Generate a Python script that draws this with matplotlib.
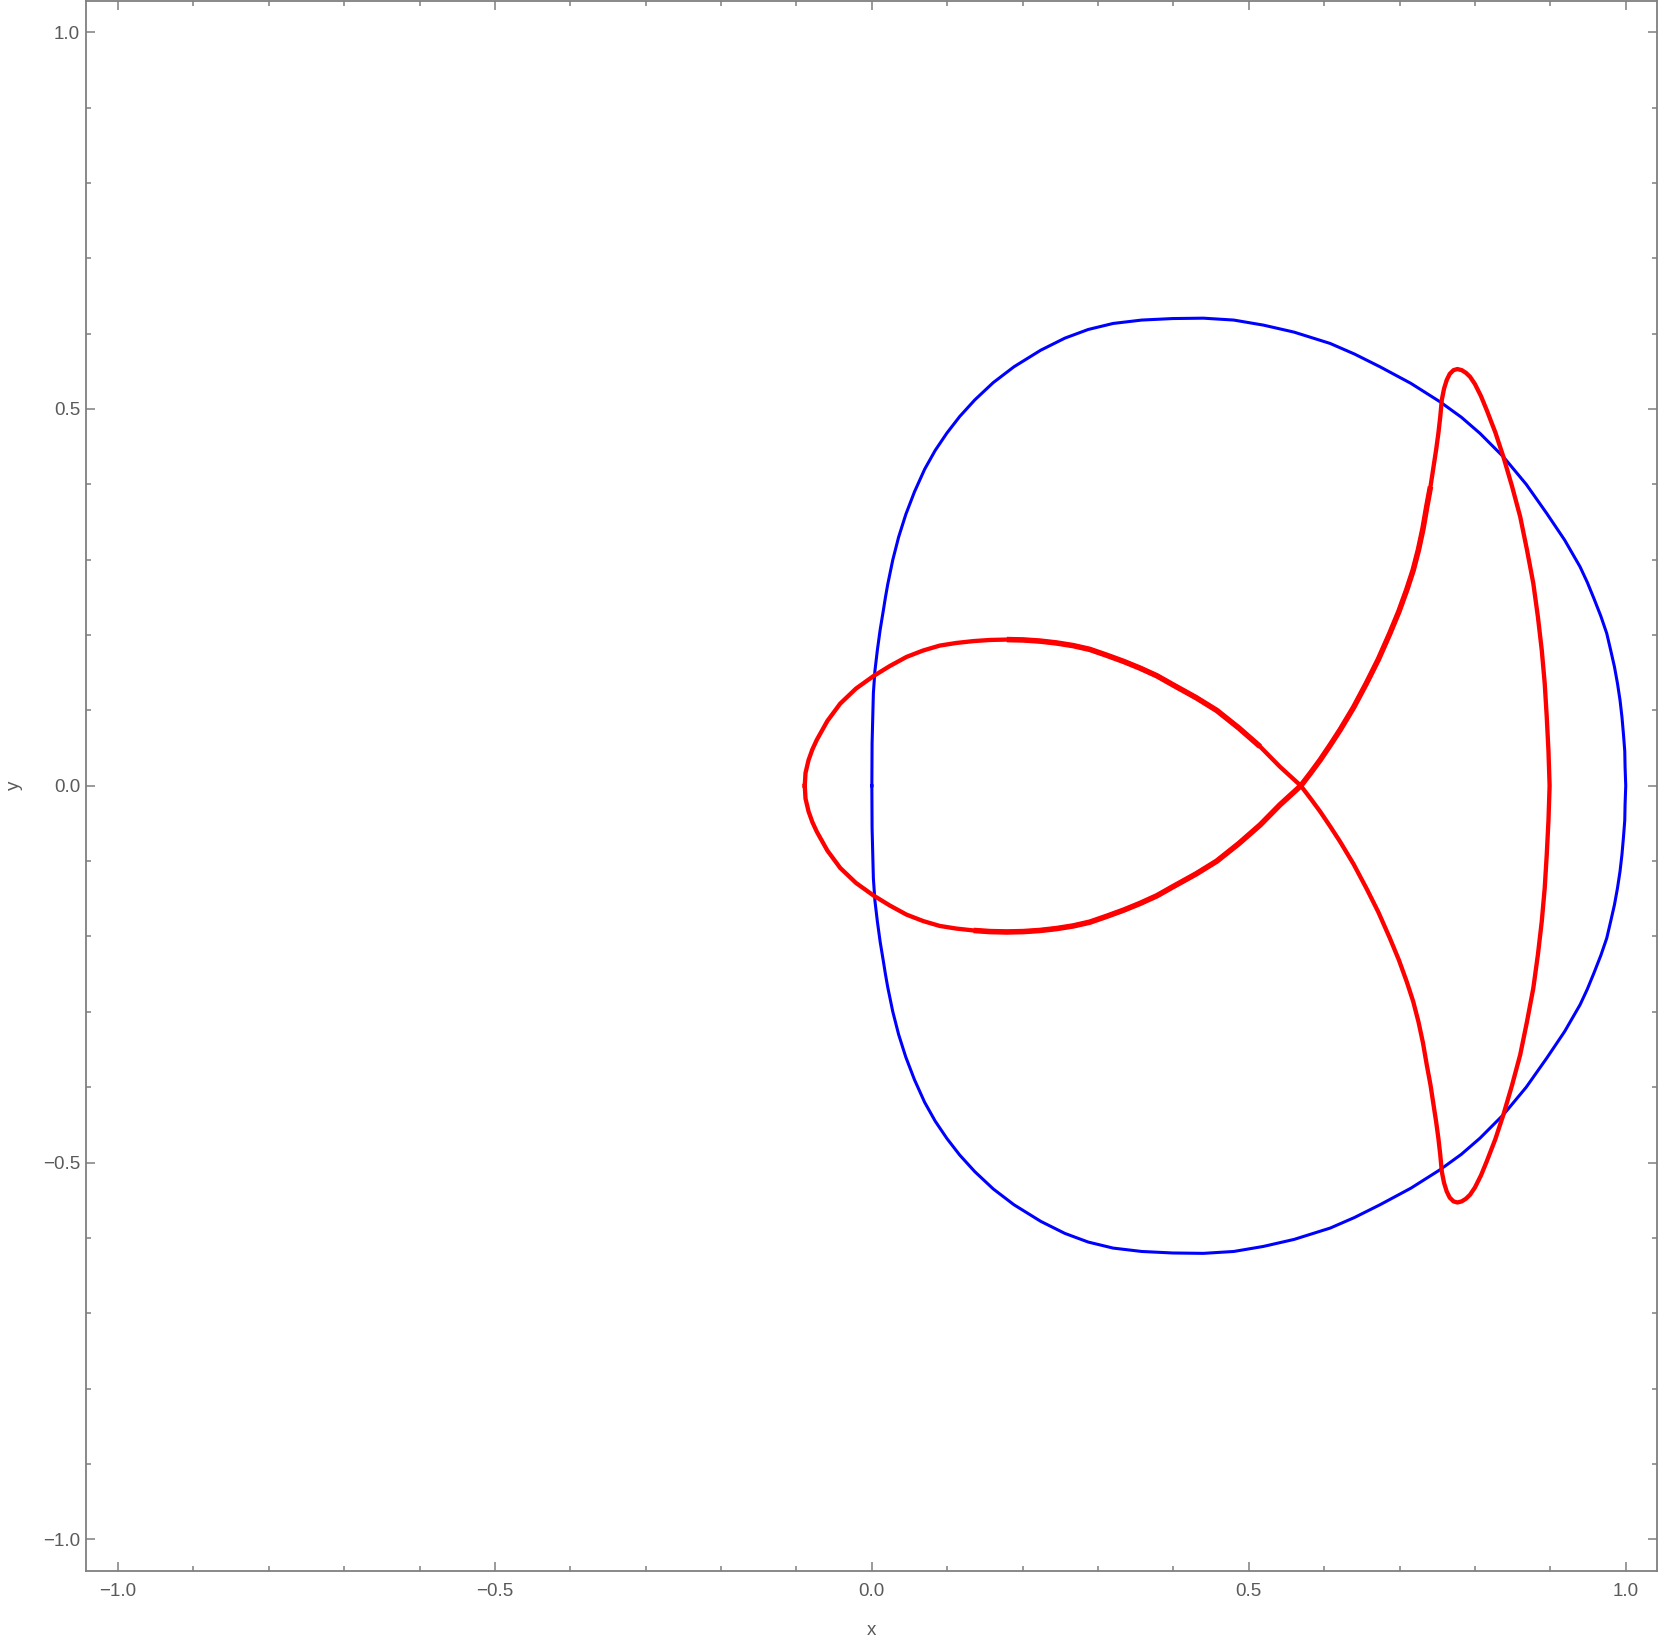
import numpy as np
import matplotlib.pyplot as plt

# upper halves; both curves are symmetric about y = 0
blue_x = [0.0, 0.0003, 0.002, 0.004, 0.0073, 0.011, 0.0153, 0.018, 0.021, 0.0243,
          0.0277, 0.0355, 0.045, 0.0565, 0.070, 0.084, 0.0995, 0.1165, 0.1365, 0.161,
          0.1885, 0.224, 0.256, 0.287, 0.320, 0.358, 0.399, 0.4397, 0.480, 0.5193,
          0.560, 0.6078, 0.640, 0.674, 0.715, 0.7537, 0.782, 0.8067, 0.8377, 0.868,
          0.8952, 0.919, 0.9394, 0.949, 0.958, 0.967, 0.9748, 0.980, 0.985, 0.989,
          0.9924, 0.995, 0.997, 0.9987, 0.9991, 1.0]
blue_y = [0.0, 0.056, 0.1226, 0.152, 0.18, 0.207, 0.2331, 0.250, 0.267, 0.283,
          0.2995, 0.330, 0.360, 0.390, 0.420, 0.445, 0.468, 0.490, 0.512, 0.535,
          0.556, 0.578, 0.594, 0.6055, 0.6135, 0.618, 0.620, 0.6205, 0.618, 0.6113,
          0.602, 0.587, 0.573, 0.556, 0.534, 0.5095, 0.489, 0.4676, 0.4365, 0.400,
          0.3614, 0.326, 0.2906, 0.270, 0.248, 0.225, 0.2022, 0.180, 0.158, 0.136,
          0.1137, 0.091, 0.068, 0.046, 0.0252, 0.0]

# red loop, leftmost point to the self crossing
loop_x = [-0.089, -0.088, -0.084, -0.079, -0.073, -0.059, -0.042, -0.021, 0.002, 0.024,
          0.046, 0.068, 0.090, 0.112, 0.135, 0.157, 0.179, 0.201, 0.223, 0.245,
          0.267, 0.289, 0.311, 0.334, 0.356, 0.378, 0.400, 0.430, 0.4575, 0.487,
          0.515, 0.5414, 0.569]
loop_y = [0.0, 0.017, 0.034, 0.048, 0.061, 0.086, 0.109, 0.129, 0.1455, 0.159,
          0.171, 0.1795, 0.186, 0.1895, 0.192, 0.1935, 0.194, 0.1935, 0.192, 0.1895,
          0.186, 0.181, 0.1734, 0.165, 0.156, 0.146, 0.1336, 0.117, 0.100, 0.0765,
          0.052, 0.0252, 0.0]

# red branch, crossing up to the upper tip
branch_x = [0.569, 0.582, 0.5945, 0.608, 0.621, 0.639, 0.656, 0.672, 0.687, 0.699,
            0.7095, 0.718, 0.725, 0.731, 0.736, 0.741, 0.745, 0.7485, 0.7515, 0.754,
            0.756, 0.759, 0.7625, 0.7665, 0.7715, 0.7767]
branch_y = [0.0, 0.017, 0.034, 0.054, 0.074, 0.104, 0.136, 0.168, 0.202, 0.231,
            0.260, 0.286, 0.313, 0.341, 0.370, 0.397, 0.423, 0.446, 0.468, 0.490,
            0.512, 0.527, 0.5383, 0.5465, 0.5515, 0.553]

# red outer side, just past the upper tip down to the axis
outer_x = [0.7825, 0.788, 0.7935, 0.800, 0.808, 0.8156, 0.827, 0.8377, 0.849, 0.860,
           0.869, 0.8774, 0.8835, 0.8886, 0.8925, 0.8952, 0.8975, 0.899]
outer_y = [0.5515, 0.548, 0.5427, 0.533, 0.517, 0.4985, 0.469, 0.4365, 0.398, 0.357,
           0.313, 0.2685, 0.224, 0.180, 0.136, 0.0916, 0.046, 0.0]

x_ticks = [-1.0, -0.5, 0.0, 0.5, 1.0]
y_ticks = [-1.0, -0.5, 0.0, 0.5, 1.0]

gray = '#7f7f7f'
text_gray = '#5a5a5a'

bx, by = np.array(blue_x), np.array(blue_y)
lx, ly = np.array(loop_x), np.array(loop_y)
brx, bry = np.array(branch_x), np.array(branch_y)
ox, oy = np.array(outer_x), np.array(outer_y)

# close the curves by mirroring the upper halves
blue_px = np.concatenate([bx, bx[::-1][1:]])
blue_py = np.concatenate([by, -by[::-1][1:]])

red_px = np.concatenate([lx, brx[1:], ox, ox[::-1][1:], brx[::-1], lx[::-1][1:]])
red_py = np.concatenate([ly, -bry[1:], -oy, oy[::-1][1:], bry[::-1], -ly[::-1][1:]])

fig = plt.figure(figsize=(16.61, 16.46), dpi=100)
ax = fig.add_axes([0.05196, 0.04557, 0.94565, 0.9541])

ax.plot(blue_px, blue_py, color='#0000ff', lw=2.2, solid_joinstyle='round')
ax.plot(red_px, red_py, color='#ff0000', lw=3.1, solid_joinstyle='round')

# parts of the red curve that render heavier in the original
m = (lx >= 0.17) & (lx <= 0.515)
ax.plot(lx[m], ly[m], color='#ff0000', lw=4.0, solid_capstyle='butt', solid_joinstyle='round')
mb = bry <= 0.40
mlow = lx >= 0.12
heavy_x = np.concatenate([brx[mb][::-1], lx[mlow][::-1][1:]])
heavy_y = np.concatenate([bry[mb][::-1], -ly[mlow][::-1][1:]])
ax.plot(heavy_x, heavy_y, color='#ff0000', lw=4.0, solid_capstyle='butt', solid_joinstyle='round')

ax.set_xlim(-1.042, 1.0415)
ax.set_ylim(-1.042, 1.042)
ax.set_xticks(x_ticks)
ax.set_yticks(y_ticks)
ax.set_xticks(np.arange(-1.0, 1.01, 0.1), minor=True)
ax.set_yticks(np.arange(-1.0, 1.01, 0.1), minor=True)
ax.set_xticklabels([f'{v:.1f}'.replace('-', '\u2212') for v in x_ticks])
ax.set_yticklabels([f'{v:.1f}'.replace('-', '\u2212') for v in y_ticks])

for s in ax.spines.values():
    s.set_color(gray)
    s.set_linewidth(1.3)

ax.tick_params(which='both', direction='in', top=True, right=True, color=gray,
               width=1.1, labelsize=13.5, labelcolor=text_gray)
ax.tick_params(which='major', length=6.3)
ax.tick_params(which='minor', length=3.5)
ax.tick_params(axis='x', pad=9)
ax.tick_params(axis='y', pad=4.5)
for lab in ax.get_xticklabels() + ax.get_yticklabels():
    lab.set_family(['Liberation Sans', 'DejaVu Sans'])

ax.set_xlabel('x', fontsize=13.5, color=text_gray, family='Liberation Sans', labelpad=15.5)
ax.set_ylabel('y', fontsize=13.5, color=text_gray, family='Liberation Sans', labelpad=14)

fig.savefig('out.png', dpi=100)
